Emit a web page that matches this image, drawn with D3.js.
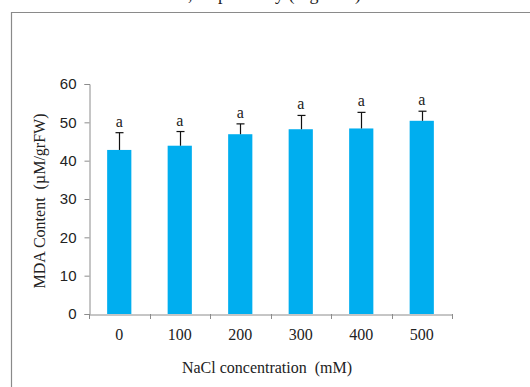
<!DOCTYPE html>
<html>
<head>
<meta charset="utf-8">
<script src="https://cdn.jsdelivr.net/npm/d3@7"></script>
<style>
  html, body { margin: 0; padding: 0; background: #fff; }
  svg { display: block; }
</style>
</head>
<body>
<script>
const categories = ["0", "100", "200", "300", "400", "500"];
const meanValues = [42.8, 43.9, 46.9, 48.2, 48.4, 50.4];
const errorValues = [4.5, 3.7, 2.7, 3.6, 4.2, 2.5];
const groupLetters = ["a", "a", "a", "a", "a", "a"];
const yTicks = [0, 10, 20, 30, 40, 50, 60];

const W = 530, H = 387;
const svg = d3.select("body").append("svg").attr("width", W).attr("height", H);

// Clipped body text from the page above the figure
svg.append("text")
  .attr("x", 188).attr("y", -0.5)
  .attr("font-family", "Liberation Serif, Times New Roman, serif")
  .attr("font-size", 18).attr("fill", "#222")
  .text(", respectively (Figure 4).");

// Figure frame
svg.append("path")
  .attr("d", `M11.5,${H} L11.5,12.5 L${W},12.5`)
  .attr("fill", "none").attr("stroke", "#8a8a8a").attr("stroke-width", 1.2);

const mLeft = 89, mRight = 452, mTop = 84, mBottom = 314;

const y = d3.scaleLinear().domain([0, 60]).range([mBottom, mTop]);
const xb = d3.scaleBand().domain(categories).range([mLeft, mRight]).padding(0);
const x = d3.scaleBand().domain(categories).range([mLeft, mRight]).paddingInner(0.6).paddingOuter(0.3);

const axisColor = "#8c8c8c";

// Y axis
const yAxis = svg.append("g").attr("transform", `translate(${mLeft + 0.5},0)`)
  .call(d3.axisLeft(y).tickValues(yTicks).tickSize(5).tickPadding(8).tickFormat(d3.format("d")));
yAxis.select(".domain").attr("stroke", axisColor);
yAxis.selectAll(".tick line").attr("stroke", axisColor);
yAxis.selectAll(".tick text")
  .attr("font-family", "Liberation Sans, Arial, sans-serif")
  .attr("font-size", 15).attr("fill", "#222");

// Bars
svg.append("g").selectAll("rect").data(categories).join("rect")
  .attr("x", d => x(d))
  .attr("y", (d, i) => y(meanValues[i]))
  .attr("width", x.bandwidth())
  .attr("height", (d, i) => y(0) - y(meanValues[i]))
  .attr("fill", "#00aeef");

// Error bars (upper only)
const eg = svg.append("g").attr("stroke", "#111").attr("stroke-width", 1.2);
categories.forEach((d, i) => {
  const cx = Math.round(x(d) + x.bandwidth() / 2) + 0.5;
  const yt = y(meanValues[i] + errorValues[i]);
  eg.append("line").attr("x1", cx).attr("x2", cx).attr("y1", y(meanValues[i])).attr("y2", yt);
  eg.append("line").attr("x1", cx - 4).attr("x2", cx + 4).attr("y1", yt).attr("y2", yt);
});

// Group letters
svg.append("g").selectAll("text").data(categories).join("text")
  .attr("x", d => x(d) + x.bandwidth() / 2)
  .attr("y", (d, i) => y(meanValues[i] + errorValues[i]) - 6)
  .attr("text-anchor", "middle")
  .attr("font-family", "Liberation Serif, Times New Roman, serif")
  .attr("font-size", 16).attr("fill", "#222")
  .text((d, i) => groupLetters[i]);

// X axis
const xAxis = svg.append("g").attr("transform", `translate(0,${mBottom + 0.5})`)
  .call(d3.axisBottom(xb).tickSize(0).tickPadding(14));
xAxis.select(".domain").attr("stroke", axisColor);
xAxis.selectAll(".tick text")
  .attr("font-family", "Liberation Serif, Times New Roman, serif")
  .attr("font-size", 16).attr("fill", "#222");
const boundaries = categories.map(d => xb(d)).concat([xb(categories[categories.length - 1]) + xb.bandwidth()]);
svg.append("g").selectAll("line").data(boundaries).join("line")
  .attr("x1", d => Math.round(d) + 0.5).attr("x2", d => Math.round(d) + 0.5)
  .attr("y1", mBottom).attr("y2", mBottom + 5)
  .attr("stroke", axisColor);

// Axis titles
svg.append("text")
  .attr("x", 267).attr("y", 373)
  .attr("text-anchor", "middle")
  .attr("font-family", "Liberation Serif, Times New Roman, serif")
  .attr("font-size", 16).attr("fill", "#222")
  .style("white-space", "pre")
  .text("NaCl concentration  (mM)");

svg.append("text")
  .attr("transform", `translate(45,${(mTop + mBottom) / 2 + 2}) rotate(-90)`)
  .attr("text-anchor", "middle")
  .attr("font-family", "Liberation Serif, Times New Roman, serif")
  .attr("font-size", 16).attr("fill", "#222")
  .style("white-space", "pre")
  .text("MDA Content  (\u00b5M/grFW)");
</script>
</body>
</html>
